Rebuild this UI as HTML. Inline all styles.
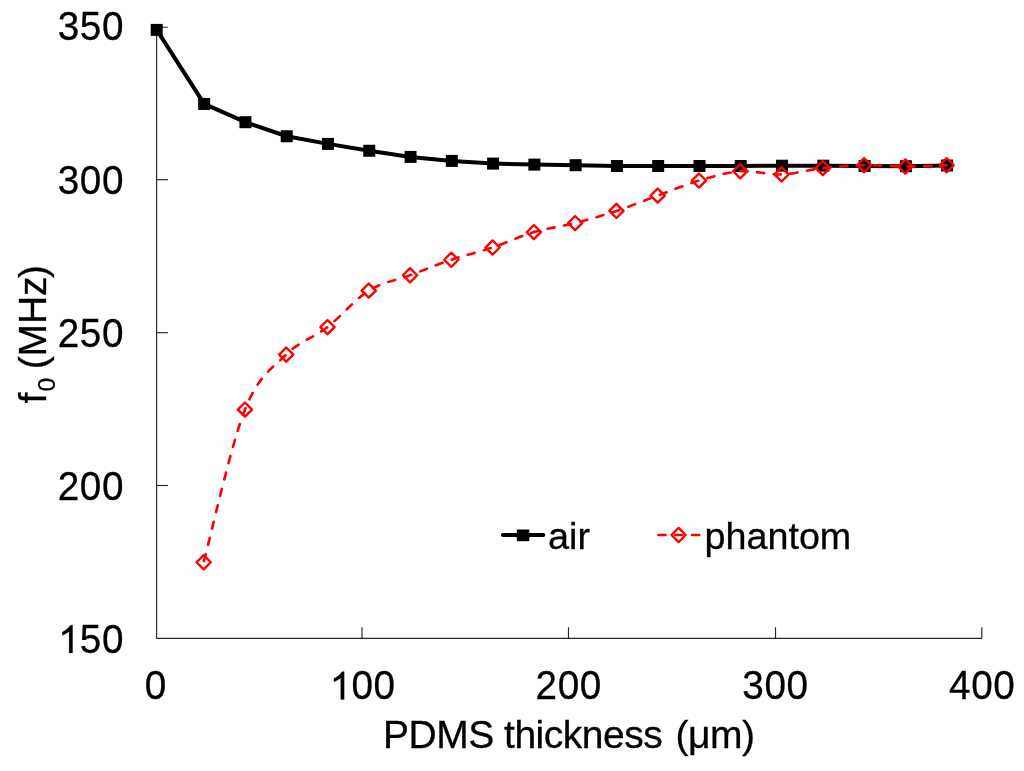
<!DOCTYPE html>
<html><head><meta charset="utf-8"><title>chart</title>
<style>html,body{margin:0;padding:0;background:#fff;}svg{display:block;will-change:transform;}text{font-family:"Liberation Sans",sans-serif;fill:#000;stroke:#000;stroke-width:0.3px;}</style></head>
<body>
<svg width="1024" height="771" viewBox="0 0 1024 771">
<g stroke="#262626" stroke-width="1.15" fill="none" stroke-linejoin="round">
<path d="M167.9 27.2H156.6V638.3H981.8V627.2"/>
<path d="M156.6 179.7H167.9"/>
<path d="M156.6 332.7H167.9"/>
<path d="M156.6 485.5H167.9"/>
<path d="M362.0 638.3V627.2"/>
<path d="M568.5 638.3V627.2"/>
<path d="M775.5 638.3V627.2"/>
</g>
<polyline fill="none" stroke="#000" stroke-width="4" stroke-linejoin="round" points="156.70,29.90 204.17,103.94 245.44,122.20 286.72,136.25 327.99,143.90 369.27,150.75 410.54,156.90 451.82,160.90 493.09,163.60 534.37,164.60 575.64,165.20 616.92,166.00 658.19,166.00 699.47,166.00 740.74,166.00 782.02,165.70 823.29,165.70 864.57,166.00 905.84,166.20 947.12,165.50"/>
<g fill="#000">
<rect x="150.70" y="23.90" width="12" height="12"/>
<rect x="198.17" y="97.94" width="12" height="12"/>
<rect x="239.44" y="116.20" width="12" height="12"/>
<rect x="280.72" y="130.25" width="12" height="12"/>
<rect x="321.99" y="137.90" width="12" height="12"/>
<rect x="363.27" y="144.75" width="12" height="12"/>
<rect x="404.54" y="150.90" width="12" height="12"/>
<rect x="445.82" y="154.90" width="12" height="12"/>
<rect x="487.09" y="157.60" width="12" height="12"/>
<rect x="528.37" y="158.60" width="12" height="12"/>
<rect x="569.64" y="159.20" width="12" height="12"/>
<rect x="610.92" y="160.00" width="12" height="12"/>
<rect x="652.19" y="160.00" width="12" height="12"/>
<rect x="693.47" y="160.00" width="12" height="12"/>
<rect x="734.74" y="160.00" width="12" height="12"/>
<rect x="776.02" y="159.70" width="12" height="12"/>
<rect x="817.29" y="159.70" width="12" height="12"/>
<rect x="858.57" y="160.00" width="12" height="12"/>
<rect x="899.84" y="160.20" width="12" height="12"/>
<rect x="941.12" y="159.50" width="12" height="12"/>
</g>
<path fill="none" stroke="#f00" stroke-width="2.6" stroke-linecap="round" stroke-dasharray="7.2 9.6" stroke-dashoffset="-1.3" d="M203.67 562.25C210.55 536.81 231.18 444.21 244.94 409.60C258.70 374.99 272.46 368.35 286.22 354.60C299.97 340.85 313.73 337.77 327.49 327.10C341.25 316.43 355.01 299.24 368.77 290.60C382.52 281.96 396.28 280.39 410.04 275.25C423.80 270.11 437.56 264.38 451.32 259.75C465.07 255.12 478.83 252.11 492.59 247.50C506.35 242.89 520.11 236.17 533.87 232.10C547.62 228.03 561.38 226.63 575.14 223.10C588.90 219.57 602.66 215.48 616.42 210.90C630.17 206.32 643.93 200.65 657.69 195.60C671.45 190.55 685.21 184.66 698.97 180.60C712.72 176.54 726.48 172.28 740.24 171.25C754.00 170.22 767.76 174.93 781.52 174.40C795.27 173.88 809.03 169.62 822.79 168.10C836.55 166.57 850.31 165.52 864.07 165.25C877.82 164.98 891.58 166.50 905.34 166.50C919.10 166.50 939.74 165.46 946.62 165.25"/>
<g fill="none" stroke="#f00" stroke-width="2.4" stroke-linejoin="round">
<path d="M203.67 555.15L210.77 562.25L203.67 569.35L196.57 562.25Z"/>
<path d="M244.94 402.50L252.04 409.60L244.94 416.70L237.84 409.60Z"/>
<path d="M286.22 347.50L293.32 354.60L286.22 361.70L279.12 354.60Z"/>
<path d="M327.49 320.00L334.59 327.10L327.49 334.20L320.39 327.10Z"/>
<path d="M368.77 283.50L375.87 290.60L368.77 297.70L361.67 290.60Z"/>
<path d="M410.04 268.15L417.14 275.25L410.04 282.35L402.94 275.25Z"/>
<path d="M451.32 252.65L458.42 259.75L451.32 266.85L444.22 259.75Z"/>
<path d="M492.59 240.40L499.69 247.50L492.59 254.60L485.49 247.50Z"/>
<path d="M533.87 225.00L540.97 232.10L533.87 239.20L526.77 232.10Z"/>
<path d="M575.14 216.00L582.24 223.10L575.14 230.20L568.04 223.10Z"/>
<path d="M616.42 203.80L623.52 210.90L616.42 218.00L609.32 210.90Z"/>
<path d="M657.69 188.50L664.79 195.60L657.69 202.70L650.59 195.60Z"/>
<path d="M698.97 173.50L706.07 180.60L698.97 187.70L691.87 180.60Z"/>
<path d="M740.24 164.15L747.34 171.25L740.24 178.35L733.14 171.25Z"/>
<path d="M781.52 167.30L788.62 174.40L781.52 181.50L774.42 174.40Z"/>
<path d="M822.79 161.00L829.89 168.10L822.79 175.20L815.69 168.10Z"/>
<path d="M864.07 158.15L871.17 165.25L864.07 172.35L856.97 165.25Z"/>
<path d="M905.34 159.40L912.44 166.50L905.34 173.60L898.24 166.50Z"/>
<path d="M946.62 158.15L953.72 165.25L946.62 172.35L939.52 165.25Z"/>
</g>
<path d="M503 535H543.2" stroke="#000" stroke-width="4.2" stroke-linecap="round"/>
<rect x="516.8" y="529.5" width="12.5" height="11.7" fill="#000"/>
<path d="M657.1 535H700.2" stroke="#f00" stroke-width="2.6" stroke-linecap="round" stroke-dasharray="7.2 9.6" stroke-dashoffset="-1.3"/>
<path d="M678.60 527.90L685.70 535.00L678.60 542.10L671.50 535.00Z" fill="none" stroke="#f00" stroke-width="2.4" stroke-linejoin="round"/>
<text transform="translate(57.75 40.40) scale(0.96 1)" font-size="40.3">3</text>
<text transform="translate(79.85 40.40) scale(0.96 1)" font-size="40.3">5</text>
<text transform="translate(101.95 40.40) scale(0.96 1)" font-size="40.3">0</text>
<text transform="translate(57.75 194.00) scale(0.96 1)" font-size="40.3">3</text>
<text transform="translate(79.85 194.00) scale(0.96 1)" font-size="40.3">0</text>
<text transform="translate(101.95 194.00) scale(0.96 1)" font-size="40.3">0</text>
<text transform="translate(57.75 346.90) scale(0.96 1)" font-size="40.3">2</text>
<text transform="translate(79.85 346.90) scale(0.96 1)" font-size="40.3">5</text>
<text transform="translate(101.95 346.90) scale(0.96 1)" font-size="40.3">0</text>
<text transform="translate(57.75 500.00) scale(0.96 1)" font-size="40.3">2</text>
<text transform="translate(79.85 500.00) scale(0.96 1)" font-size="40.3">0</text>
<text transform="translate(101.95 500.00) scale(0.96 1)" font-size="40.3">0</text>
<path transform="translate(58.15 652.90) scale(0.01889 -0.01885)" d="M763 0L583 0L583 1147Q518 1085 412.5 1023Q307 961 223 930L223 1104Q374 1175 487 1276Q600 1377 647 1472L763 1472Z" fill="#000" stroke="#000" stroke-width="15.2"/>
<text transform="translate(79.85 652.90) scale(0.96 1)" font-size="40.3">5</text>
<text transform="translate(101.95 652.90) scale(0.96 1)" font-size="40.3">0</text>
<text transform="translate(144.70 699.40) scale(0.96 1)" font-size="40.3">0</text>
<path transform="translate(329.75 699.40) scale(0.01889 -0.01885)" d="M763 0L583 0L583 1147Q518 1085 412.5 1023Q307 961 223 930L223 1104Q374 1175 487 1276Q600 1377 647 1472L763 1472Z" fill="#000" stroke="#000" stroke-width="15.2"/>
<text transform="translate(351.45 699.40) scale(0.96 1)" font-size="40.3">0</text>
<text transform="translate(373.55 699.40) scale(0.96 1)" font-size="40.3">0</text>
<text transform="translate(535.60 699.40) scale(0.96 1)" font-size="40.3">2</text>
<text transform="translate(557.70 699.40) scale(0.96 1)" font-size="40.3">0</text>
<text transform="translate(579.80 699.40) scale(0.96 1)" font-size="40.3">0</text>
<text transform="translate(742.35 699.40) scale(0.96 1)" font-size="40.3">3</text>
<text transform="translate(764.45 699.40) scale(0.96 1)" font-size="40.3">0</text>
<text transform="translate(786.55 699.40) scale(0.96 1)" font-size="40.3">0</text>
<text transform="translate(949.10 699.40) scale(0.96 1)" font-size="40.3">4</text>
<text transform="translate(971.20 699.40) scale(0.96 1)" font-size="40.3">0</text>
<text transform="translate(993.30 699.40) scale(0.96 1)" font-size="40.3">0</text>
<text id="air" x="548" y="549.2" font-size="37.8">air</text>
<text id="ph" x="704.6" y="549.4" font-size="37.7">phantom</text>
<text id="xl" x="383.00 408.52 436.19 468.19 493.70 504.05 514.39 535.59 543.77 562.77 581.77 602.97 624.17 643.17" y="747.7" font-size="39">PDMS thickness</text>
<text id="xl2" x="675.60 688.10 710.10 742.10" y="747.7" font-size="39">(μm)</text>
<g transform="translate(46.3 405) rotate(-90)"><text x="1.50" y="0" font-size="39">f</text><text x="13.44" y="8.9" font-size="24.7">0</text><text x="35.71" y="0" font-size="39">(</text><text x="48.61" y="0" font-size="39">M</text><text x="80.91" y="0" font-size="39">H</text><text x="109.08" y="0" font-size="39">z</text><text x="126.98" y="0" font-size="39">)</text></g>
</svg>
</body></html>
